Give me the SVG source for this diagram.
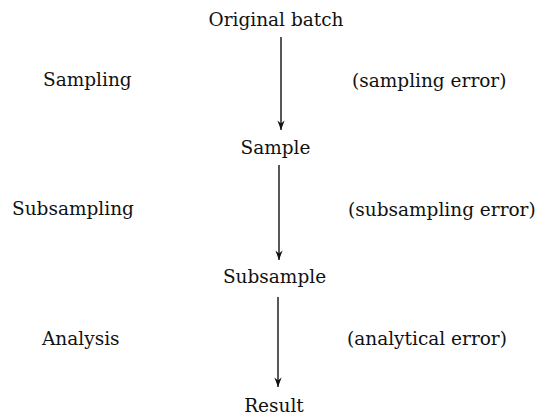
<svg xmlns="http://www.w3.org/2000/svg" width="553" height="417" viewBox="0 0 553 417">
<style>
  text { font-family: "DejaVu Serif", "Liberation Serif", serif; font-size: 18.5px; fill: #111; }
  .mid { text-anchor: middle; }
  .conn { stroke: #111; stroke-width: 1.4; fill: none; }
</style>
<defs>
  <marker id="arr" viewBox="-10 -5 11 10" refX="0" refY="0" markerWidth="11" markerHeight="10" markerUnits="userSpaceOnUse" orient="auto">
    <path d="M0,0 L-9.5,-3.6 L-6.5,0 L-9.5,3.6 Z" fill="#111"/>
  </marker>
</defs>
<rect width="553" height="417" fill="#fff"/>
<g id="connectors">
  <line class="conn" x1="281" y1="37" x2="281" y2="130" marker-end="url(#arr)"/>
  <line class="conn" x1="279" y1="165" x2="279" y2="260" marker-end="url(#arr)"/>
  <line class="conn" x1="278" y1="297" x2="278" y2="387" marker-end="url(#arr)"/>
</g>
<g id="original-batch"><text class="mid" x="276" y="26">Original batch</text></g>
<g id="sample"><text class="mid" x="275.5" y="154">Sample</text></g>
<g id="subsample"><text class="mid" x="274.5" y="283">Subsample</text></g>
<g id="result"><text class="mid" x="274" y="412">Result</text></g>
<g id="sampling"><text x="43" y="86">Sampling</text></g>
<g id="subsampling"><text x="12" y="215">Subsampling</text></g>
<g id="analysis"><text x="42" y="345">Analysis</text></g>
<g id="sampling-error"><text x="352" y="87">(sampling error)</text></g>
<g id="subsampling-error"><text x="348" y="216">(subsampling error)</text></g>
<g id="analytical-error"><text x="347" y="345">(analytical error)</text></g>
</svg>
